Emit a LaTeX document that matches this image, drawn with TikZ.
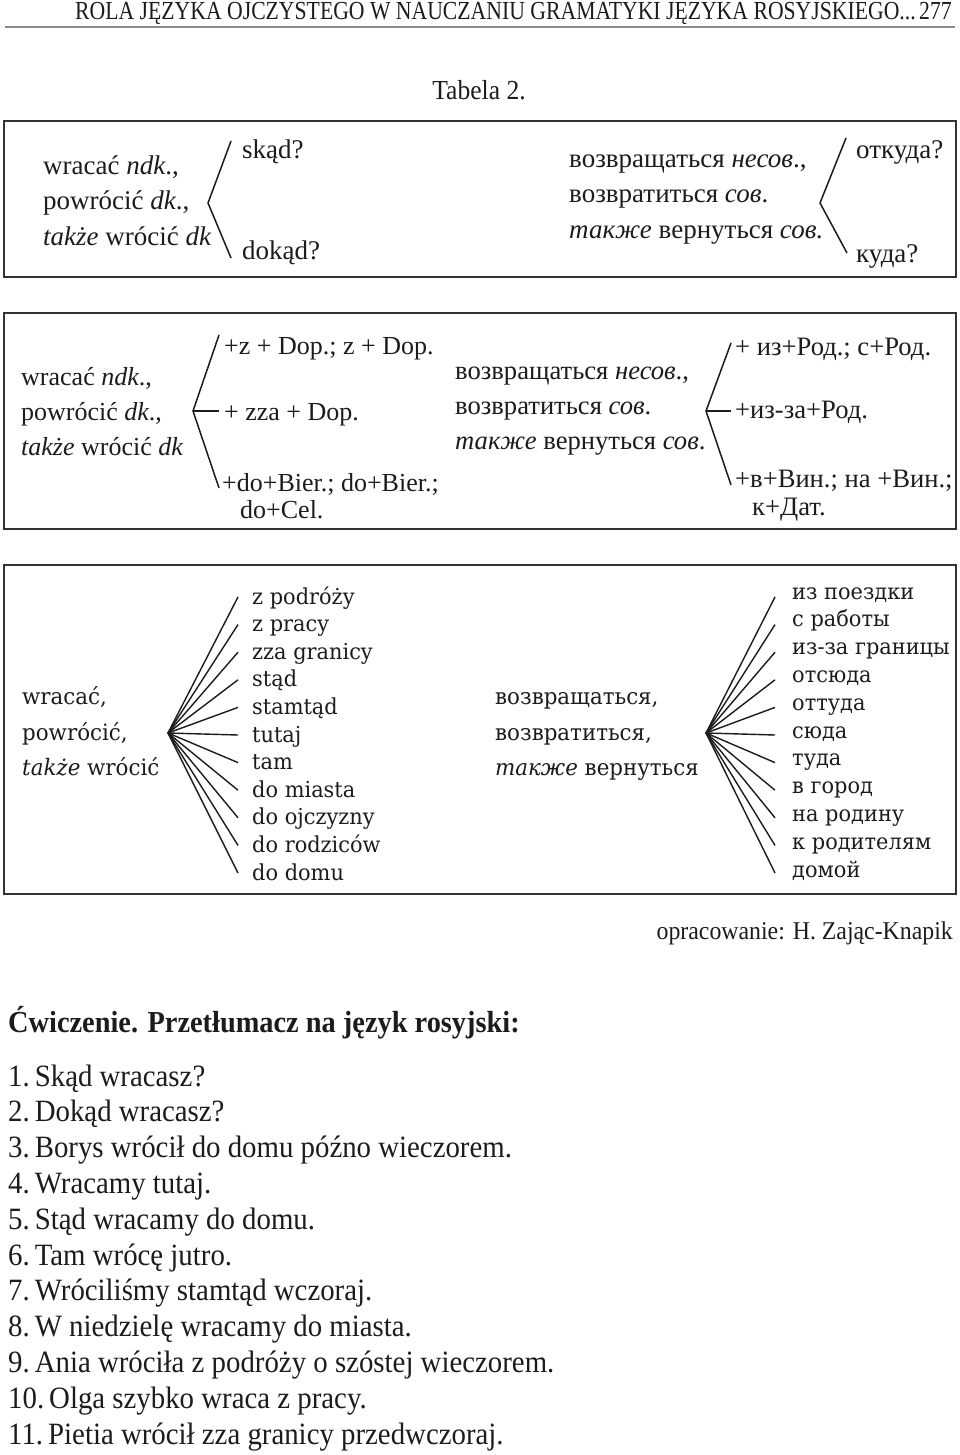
\documentclass[tikz,border=0pt]{standalone}
\usepackage{fontspec}
\setmainfont{Liberation Serif}
\newfontfamily\condf[FakeStretch=0.93]{Liberation Serif}
\newfontfamily\headf[FakeStretch=0.835]{Liberation Serif}
\newfontfamily\slabf[FakeStretch=0.95]{DejaVu Serif}
\definecolor{ink}{HTML}{1C1C1C}
\definecolor{boxc}{HTML}{333333}
\definecolor{rulec}{HTML}{8A8A8A}
\begin{document}
\begin{tikzpicture}[x=1pt,y=-1pt,
  txt/.style={anchor=base west, inner sep=0pt, text=ink},
  txtr/.style={anchor=base east, inner sep=0pt, text=ink},
  txtc/.style={anchor=base, inner sep=0pt, text=ink},
  frame/.style={draw=boxc, line width=2pt},
  brk/.style={draw=ink, line width=1.5pt},
  fan/.style={draw=ink, line width=1.4pt},
  fA/.style={font=\fontsize{27}{32}\selectfont},
  fB/.style={font=\fontsize{26}{31}\selectfont},
  fBr/.style={font=\fontsize{26.6}{31}\selectfont},
  fC/.style={font=\slabf\fontsize{22}{26}\selectfont},
  fD/.style={font=\slabf\fontsize{22.5}{28}\selectfont},
  fH/.style={font=\headf\fontsize{26}{30}\selectfont},
  fT/.style={font=\condf\fontsize{27.5}{30}\selectfont},
  fS/.style={font=\condf\fontsize{25.6}{30}\selectfont},
  fE/.style={font=\condf\bfseries\fontsize{30.5}{34}\selectfont},
  fL/.style={font=\condf\fontsize{31}{34}\selectfont}]
\path[use as bounding box, fill=white] (0,0) rectangle (960,1455);

% header
\node[txt, fH] (head) at (75,20) {ROLA JĘZYKA OJCZYSTEGO W NAUCZANIU GRAMATYKI JĘZYKA ROSYJSKIEGO...};
\node[txtr, fH] (page) at (952,20) {277};
\coordinate (rl) at (5,27); \coordinate (rr) at (955,27);
\draw[rulec, line width=2.2pt] (rl) -- (rr);
\node[txtc, fT] (tab) at (479,100) {Tabela 2.};

% ---------- box 1
\draw[frame] (4,121) rectangle (956,277);
\node[txt, fA] (a1) at (43,175) {wracać \textit{ndk}.,};
\node[txt, fA] (a2) at (43,210) {powrócić \textit{dk}.,};
\node[txt, fA] (a3) at (43,245) {\textit{także} wrócić \textit{dk}};
\coordinate (b1t) at (231,141); \coordinate (b1v) at (208,203); \coordinate (b1b) at (231,258);
\draw[brk] (b1t) -- (b1v) -- (b1b);
\node[txt, fA] (q1) at (242,159) {skąd?};
\node[txt, fA] (q2) at (242,259) {dokąd?};
\node[txt, fA] (r1) at (569,168) {возвращаться \textit{несов}.,};
\node[txt, fA] (r2) at (569,203) {возвратиться \textit{сов}.};
\node[txt, fA] (r3) at (569,239) {\textit{также} вернуться \textit{сов.}};
\coordinate (b2t) at (846,138); \coordinate (b2v) at (820,203); \coordinate (b2b) at (847,253);
\draw[brk] (b2t) -- (b2v) -- (b2b);
\node[txt, fA] (q3) at (856,159) {откуда?};
\node[txt, fA] (q4) at (856,262) {куда?};

% ---------- box 2
\draw[frame] (4,313) rectangle (956,529);
\node[txt, fB] (c1) at (21,385) {wracać \textit{ndk}.,};
\node[txt, fB] (c2) at (21,420) {powrócić \textit{dk}.,};
\node[txt, fB] (c3) at (21,455) {\textit{także} wrócić \textit{dk}};
\coordinate (b3t) at (219,335); \coordinate (b3v) at (193,411); \coordinate (b3b) at (219,488); \coordinate (b3m) at (219,411);
\draw[brk] (b3t) -- (b3v) -- (b3b);
\draw[brk] (b3v) -- (b3m);
\node[txt, fB] (d1) at (224,354) {+z + Dop.; z + Dop.};
\node[txt, fB] (d2) at (224,420) {+ zza + Dop.};
\node[txt, fB] (d3) at (222,491) {+do+Bier.; do+Bier.;};
\node[txt, fB] (d4) at (240,518) {do+Cel.};
\node[txt, fBr] (e1) at (455,379) {возвращаться \textit{несов}.,};
\node[txt, fBr] (e2) at (455,414) {возвратиться \textit{сов}.};
\node[txt, fBr] (e3) at (455,449) {\textit{также} вернуться \textit{сов}.};
\coordinate (b4t) at (731,343); \coordinate (b4v) at (706,411); \coordinate (b4b) at (731,485); \coordinate (b4m) at (731,411);
\draw[brk] (b4t) -- (b4v) -- (b4b);
\draw[brk] (b4v) -- (b4m);
\node[txt, fBr] (g1) at (735,355) {+ из+Род.; с+Род.};
\node[txt, fBr] (g2) at (735,418) {+из-за+Род.};
\node[txt, fBr] (g3) at (735,487) {+в+Вин.; на +Вин.;};
\node[txt, fBr] (g4) at (752,515) {к+Дат.};

% ---------- box 3
\draw[frame] (4,565) rectangle (956,894);
\node[txt, fD] (h1) at (22,704) {wracać,};
\node[txt, fD] (h2) at (22,740) {powrócić,};
\node[txt, fD] (h3) at (22,775) {\textit{także} wrócić};
\coordinate (lv) at (168,733);
\foreach \w [count=\i from 0] in {z podróży,z pracy,zza granicy,stąd,stamtąd,tutaj,tam,do miasta,do ojczyzny,do rodziców,do domu}{
  \coordinate (le\i) at (238,{597+\i*27.6});
  \draw[fan] (lv) -- (le\i);
  \node[txt, fC] (lw\i) at (252,{604+\i*27.6}) {\w};
}
\node[txt, fD] (k1) at (495,704) {возвращаться,};
\node[txt, fD] (k2) at (495,740) {возвратиться,};
\node[txt, fD] (k3) at (495,775) {\textit{также} вернуться};
\coordinate (rv) at (706,733);
\foreach \w [count=\i from 0] in {из поездки,с работы,из-за границы,отсюда,оттуда,сюда,туда,в город,на родину,к родителям,домой}{
  \coordinate (re\i) at (775,{597+\i*27.6});
  \draw[fan] (rv) -- (re\i);
  \node[txt, fC] (rw\i) at (792,{599+\i*27.8}) {\w};
}

% ---------- below
\node[txtr, fS] (src) at (953,939) {opracowanie: H. Zając-Knapik};
\node[txt, fE] (ex) at (8,1032) {Ćwiczenie. Przetłumacz na język rosyjski:};
\foreach \n/\s [count=\i from 0] in {1/Skąd wracasz?,2/Dokąd wracasz?,3/Borys wrócił do domu późno wieczorem.,4/Wracamy tutaj.,5/Stąd wracamy do domu.,6/Tam wrócę jutro.,7/Wróciliśmy stamtąd wczoraj.,8/W niedzielę wracamy do miasta.,9/Ania wróciła z podróży o szóstej wieczorem.,10/Olga szybko wraca z pracy.,11/Pietia wrócił zza granicy przedwczoraj.}{
  \node[txt, fL] (ls\i) at (8,{1086+\i*35.8}) {\n.\hspace{5pt}\s};
}
\end{tikzpicture}
\end{document}
